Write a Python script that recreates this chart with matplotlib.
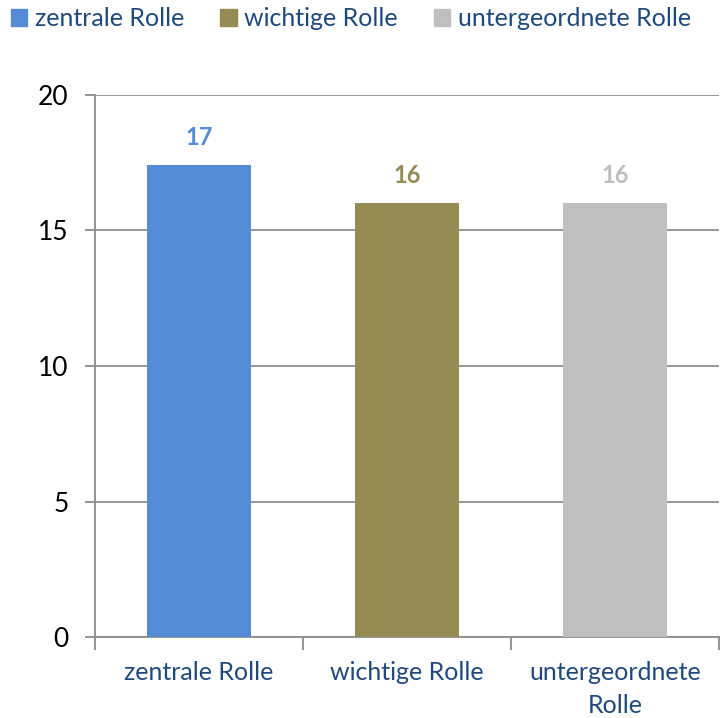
import matplotlib
matplotlib.use("Agg")
import matplotlib.pyplot as plt
import numpy as np

# Rolle der Themen: Anzahl der Nennungen
categories = ["zentrale Rolle", "wichtige Rolle", "untergeordnete Rolle"]
tick_labels = ["zentrale Rolle", "wichtige Rolle", "untergeordnete\nRolle"]
values = [17.4, 16, 16]
colors = ["#538CD4", "#958B53", "#BFBFBF"]
yticks = [0, 5, 10, 15, 20]

plt.rcParams["font.family"] = ["Lato", "DejaVu Sans"]
text_blue = "#1F497D"
grid_gray = "#8C8C8C"

fig = plt.figure(figsize=(7.2, 7.18), dpi=100)
ax = fig.add_axes([0.132, 0.1128, 0.8666, 0.7549])

x = np.arange(len(values))
bars = ax.bar(x, values, width=0.5, color=colors, zorder=3)

for xi, v, c in zip(x, values, colors):
    ax.annotate("%.0f" % v, (xi, v), xytext=(0, 12), textcoords="offset points",
                ha="center", va="bottom", fontsize=17, fontweight="bold", color=c)

ax.set_xlim(-0.5, len(values) - 0.5)
ax.set_ylim(0, 20)
ax.set_yticks(yticks)
ax.set_yticklabels([str(t) for t in yticks])
ax.yaxis.grid(True, color=grid_gray, linewidth=1.3, zorder=0)
ax.tick_params(axis="y", length=7, width=1.3, color=grid_gray, labelsize=19,
               labelcolor="black", pad=12)

# category labels centred, tick marks on category borders
ax.set_xticks(x)
ax.set_xticklabels(tick_labels, color=text_blue, fontsize=18, linespacing=1.55)
ax.tick_params(axis="x", length=0, pad=17)
ax.set_xticks(np.arange(len(values) + 1) - 0.5, minor=True)
ax.tick_params(axis="x", which="minor", length=9, width=1.3, color=grid_gray)

for side in ["top", "right"]:
    ax.spines[side].set_visible(False)
for side in ["left", "bottom"]:
    ax.spines[side].set_color(grid_gray)
    ax.spines[side].set_linewidth(1.3)

handles = [plt.Rectangle((0, 0), 1, 1, color=c) for c in colors]
fig.legend(handles, categories, loc="upper left", bbox_to_anchor=(0.005, 1.0),
           ncol=3, frameon=False, fontsize=18, labelcolor=text_blue,
           handlelength=0.65, handleheight=0.65, handletextpad=0.3,
           columnspacing=1.45, borderaxespad=0.2, borderpad=0.1)

fig.savefig("out.png", dpi=100)
